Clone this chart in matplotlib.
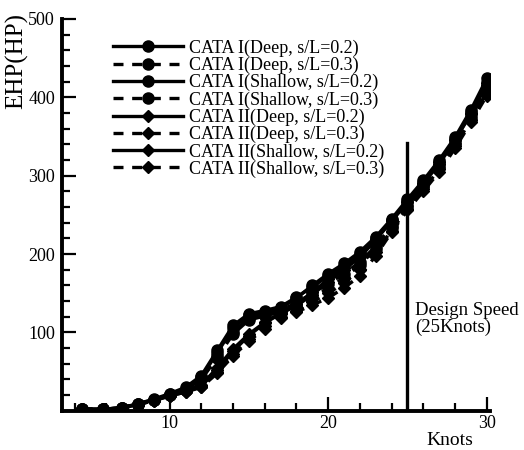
import matplotlib
matplotlib.use('Agg')
import matplotlib.pyplot as plt
from matplotlib.ticker import MultipleLocator

plt.rcParams['font.family'] = ['Liberation Serif', 'DejaVu Serif']

knots = [4.5, 5.8, 7.0, 8, 9, 10, 11, 12, 13, 14, 15, 16, 17, 18, 19, 20, 21, 22, 23, 24, 25, 26, 27, 28, 29, 30]

c1_deep_02 = [2, 2, 4, 9, 14, 21, 28, 43, 74, 106, 122, 126, 131, 144, 160, 175, 188, 203, 222, 245, 270, 294, 320, 349, 384, 424]
c1_deep_03 = [2, 2, 4, 9, 14, 20, 27, 41, 70, 101, 118, 123, 128, 138, 150, 162, 175, 190, 210, 236, 262, 287, 312, 342, 376, 414]
c1_sh_02 = [2, 2, 4, 9, 15, 22, 30, 45, 77, 109, 124, 128, 133, 145, 158, 172, 185, 200, 220, 244, 268, 292, 318, 347, 381, 420]
c1_sh_03 = [2, 2, 4, 8, 14, 20, 27, 40, 68, 98, 116, 121, 126, 134, 145, 156, 170, 186, 207, 233, 260, 285, 310, 340, 372, 408]
c2_deep_02 = [2, 2, 4, 8, 14, 20, 25, 32, 52, 76, 96, 112, 124, 134, 148, 165, 180, 196, 218, 242, 266, 290, 315, 345, 379, 418]
c2_deep_03 = [2, 2, 4, 8, 13, 19, 24, 31, 50, 72, 92, 108, 120, 128, 139, 150, 163, 180, 203, 230, 258, 283, 308, 338, 371, 406]
c2_sh_02 = [2, 2, 4, 8, 14, 20, 26, 33, 55, 79, 98, 113, 125, 136, 151, 168, 182, 198, 219, 243, 267, 291, 317, 346, 380, 416]
c2_sh_03 = [2, 2, 3, 8, 13, 19, 24, 30, 48, 70, 89, 105, 118, 126, 135, 144, 157, 172, 198, 228, 256, 280, 305, 335, 368, 402]

series = [
    (c1_deep_02, 'CATA I(Deep, s/L=0.2)', '-', 'o'),
    (c1_deep_03, 'CATA I(Deep, s/L=0.3)', '--', 'o'),
    (c1_sh_02, 'CATA I(Shallow, s/L=0.2)', '-', 'o'),
    (c1_sh_03, 'CATA I(Shallow, s/L=0.3)', '--', 'o'),
    (c2_deep_02, 'CATA II(Deep, s/L=0.2)', '-', 'D'),
    (c2_deep_03, 'CATA II(Deep, s/L=0.3)', '--', 'D'),
    (c2_sh_02, 'CATA II(Shallow, s/L=0.2)', '-', 'D'),
    (c2_sh_03, 'CATA II(Shallow, s/L=0.3)', '--', 'D'),
]

design_speed = 25
design_top = 342

fig = plt.figure(figsize=(5.24, 4.5), dpi=100)
ax = fig.add_axes([0.118, 0.087, 0.817, 0.871])

for vals, lab, ls, mk in series:
    line, = ax.plot(knots, vals, color='black', lw=2.4, marker=mk,
                    ms=8 if mk == 'o' else 6.5, label=lab)
    if ls == '--':
        line.set_dashes([3, 2.6])

ax.plot([design_speed, design_speed], [0, design_top], color='black', lw=2.4)
ax.text(25.5, 139, 'Design Speed\n(25Knots)', fontsize=13.5, va='top', ha='left',
        linespacing=1.0)

ax.set_xlim(3.2, 30.2)
ax.set_ylim(0, 500)
ax.xaxis.set_major_locator(MultipleLocator(10))
ax.xaxis.set_minor_locator(MultipleLocator(2))
ax.yaxis.set_minor_locator(MultipleLocator(20))
ax.set_yticks([100, 200, 300, 400, 500])
ax.tick_params(which='both', direction='in', width=1.6, labelsize=13)
ax.tick_params(which='major', length=10)
ax.tick_params(which='minor', length=6)
ax.tick_params(axis='y', pad=5)
ax.tick_params(axis='x', pad=3)

for s in ['top', 'right']:
    ax.spines[s].set_visible(False)
for s in ['left', 'bottom']:
    ax.spines[s].set_linewidth(2.8)

ax.set_ylabel('EHP(HP)', fontsize=18)
ax.yaxis.set_label_coords(-0.078, 0.893)
ax.set_xlabel('Knots', fontsize=14)
ax.xaxis.set_label_coords(0.906, -0.055)

ax.legend(loc='upper left', bbox_to_anchor=(0.089, 0.98), frameon=False,
          fontsize=13, handlelength=3.9, handletextpad=0.35, labelspacing=0.0,
          borderpad=0.2)

fig.savefig('out.png', dpi=100)
